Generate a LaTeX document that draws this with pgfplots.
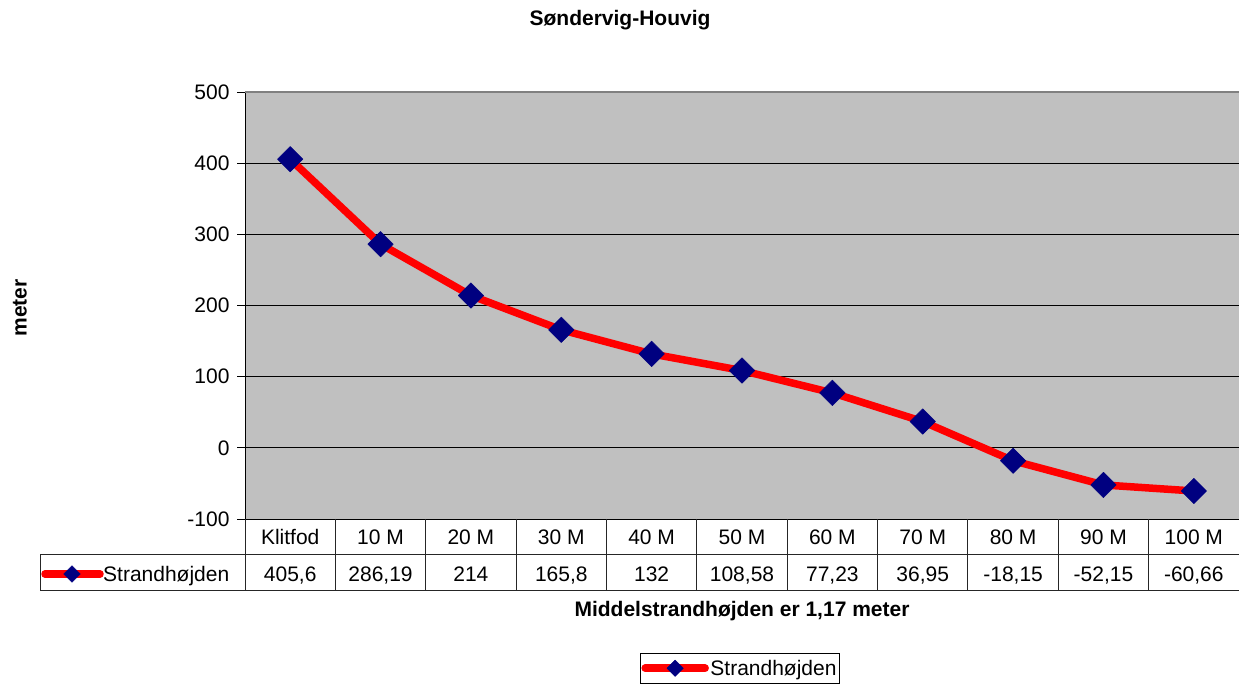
\documentclass[border=0pt]{standalone}
\usepackage{fontspec}
\setmainfont{Liberation Sans}
\usepackage{pgfplots}
\pgfplotsset{compat=1.18}
\usepackage{pgfplotstable}
\definecolor{plotgrey}{HTML}{C0C0C0}
\definecolor{navy}{HTML}{000080}
\definecolor{bordergrey}{HTML}{808080}

\pgfplotstableread{
x y
0 405.6
1 286.19
2 214
3 165.8
4 132
5 108.58
6 77.23
7 36.95
8 -18.15
9 -52.15
10 -60.66
}\datatable

\newcommand{\fs}{\fontsize{21}{25}\selectfont}

\begin{document}
\begin{tikzpicture}
\useasboundingbox (0,0) rectangle (1239pt,684pt);
\begin{axis}[
  at={(245pt,165pt)}, anchor=south west,
  scale only axis, width=994pt, height=427pt,
  xmin=-0.5, xmax=10.5, ymin=-100, ymax=500,
  ytick={-100,0,100,200,300,400,500},
  xtick={0,...,10},
  xticklabels={Klitfod,10 M,20 M,30 M,40 M,50 M,60 M,70 M,80 M,90 M,100 M},
  x tick style={draw=none},
  xticklabel style={anchor=base, yshift=-18pt},
  yticklabel style={xshift=-4pt},
  ymajorgrids, grid style={black, line width=0.8pt},
  axis background/.style={fill=plotgrey},
  axis x line*=bottom, axis y line*=left,
  axis line style={-, black, line width=0.8pt},
  tick align=outside, major tick length=8pt,
  ytick style={black, line width=0.8pt},
  tick label style={font=\fs},
  /pgf/number format/assume math mode=true,
  clip=false,
  legend style={at={(rel axis cs:0.3974,-0.3138)}, anchor=north west,
    draw=black, line width=0.8pt, fill=white, font=\fs,
    inner xsep=1pt, inner ysep=5pt, nodes={inner sep=1.5pt}},
  legend image code/.code={
    \draw[#1, mark=none] (0pt,0pt) -- (60pt,0pt);
    \draw[#1, mark size=5.8pt] plot coordinates {(30pt,0pt)};
  },
]
\draw[bordergrey, line width=2pt] (rel axis cs:0,1) -- (rel axis cs:1,1);
\addplot[red, line width=7.5pt, line join=round, line cap=round,
  mark=square*, mark size=9pt,
  mark options={rotate=45, fill=navy, draw=navy, line width=0.5pt, solid}]
  table[x=x, y=y]{\datatable};
\addlegendentry{Strandhøjden}
% values row of the data table
\node[anchor=base, font=\fs, yshift=-63pt] at (axis cs:0,-100) {405,6};
\node[anchor=base, font=\fs, yshift=-63pt] at (axis cs:1,-100) {286,19};
\node[anchor=base, font=\fs, yshift=-63pt] at (axis cs:2,-100) {214};
\node[anchor=base, font=\fs, yshift=-63pt] at (axis cs:3,-100) {165,8};
\node[anchor=base, font=\fs, yshift=-63pt] at (axis cs:4,-100) {132};
\node[anchor=base, font=\fs, yshift=-63pt] at (axis cs:5,-100) {108,58};
\node[anchor=base, font=\fs, yshift=-63pt] at (axis cs:6,-100) {77,23};
\node[anchor=base, font=\fs, yshift=-63pt] at (axis cs:7,-100) {36,95};
\node[anchor=base, font=\fs, yshift=-63pt] at (axis cs:8,-100) {-18,15};
\node[anchor=base, font=\fs, yshift=-63pt] at (axis cs:9,-100) {-52,15};
\node[anchor=base, font=\fs, yshift=-63pt] at (axis cs:10,-100) {-60,66};
\end{axis}
% data table grid
\foreach \k in {0,...,11} {
  \draw[black!85, line width=1pt] ({(245+994/11*\k)*1pt},165pt) -- ++(0,-72pt);
}
\draw[black!85, line width=1pt] (40pt,129pt) -- (1239pt,129pt);
\draw[black!85, line width=1pt] (40pt,93pt) -- (1239pt,93pt);
\draw[black!85, line width=1pt] (40pt,129pt) -- (40pt,93pt);
% legend key in the table
\draw[red, line width=7.5pt, line cap=round] (45pt,110pt) -- (100pt,110pt);
\draw[red, line width=7pt, mark=square*, mark size=5.8pt,
  mark options={rotate=45, fill=navy, draw=navy, line width=0.5pt, solid}]
  plot coordinates {(72pt,110pt)};
\node[anchor=base west, font=\fs, inner sep=0pt] at (103pt,102pt) {Strandhøjden};
% title and axis labels
\node[anchor=base, font=\fs\bfseries] at (620pt,658pt) {Søndervig-Houvig};
\node[anchor=base, font=\fs\bfseries] at (742pt,67pt) {Middelstrandhøjden er 1,17 meter};
\node[rotate=90, font=\fs\bfseries] at (20pt,376pt) {meter};
\end{tikzpicture}
\end{document}
